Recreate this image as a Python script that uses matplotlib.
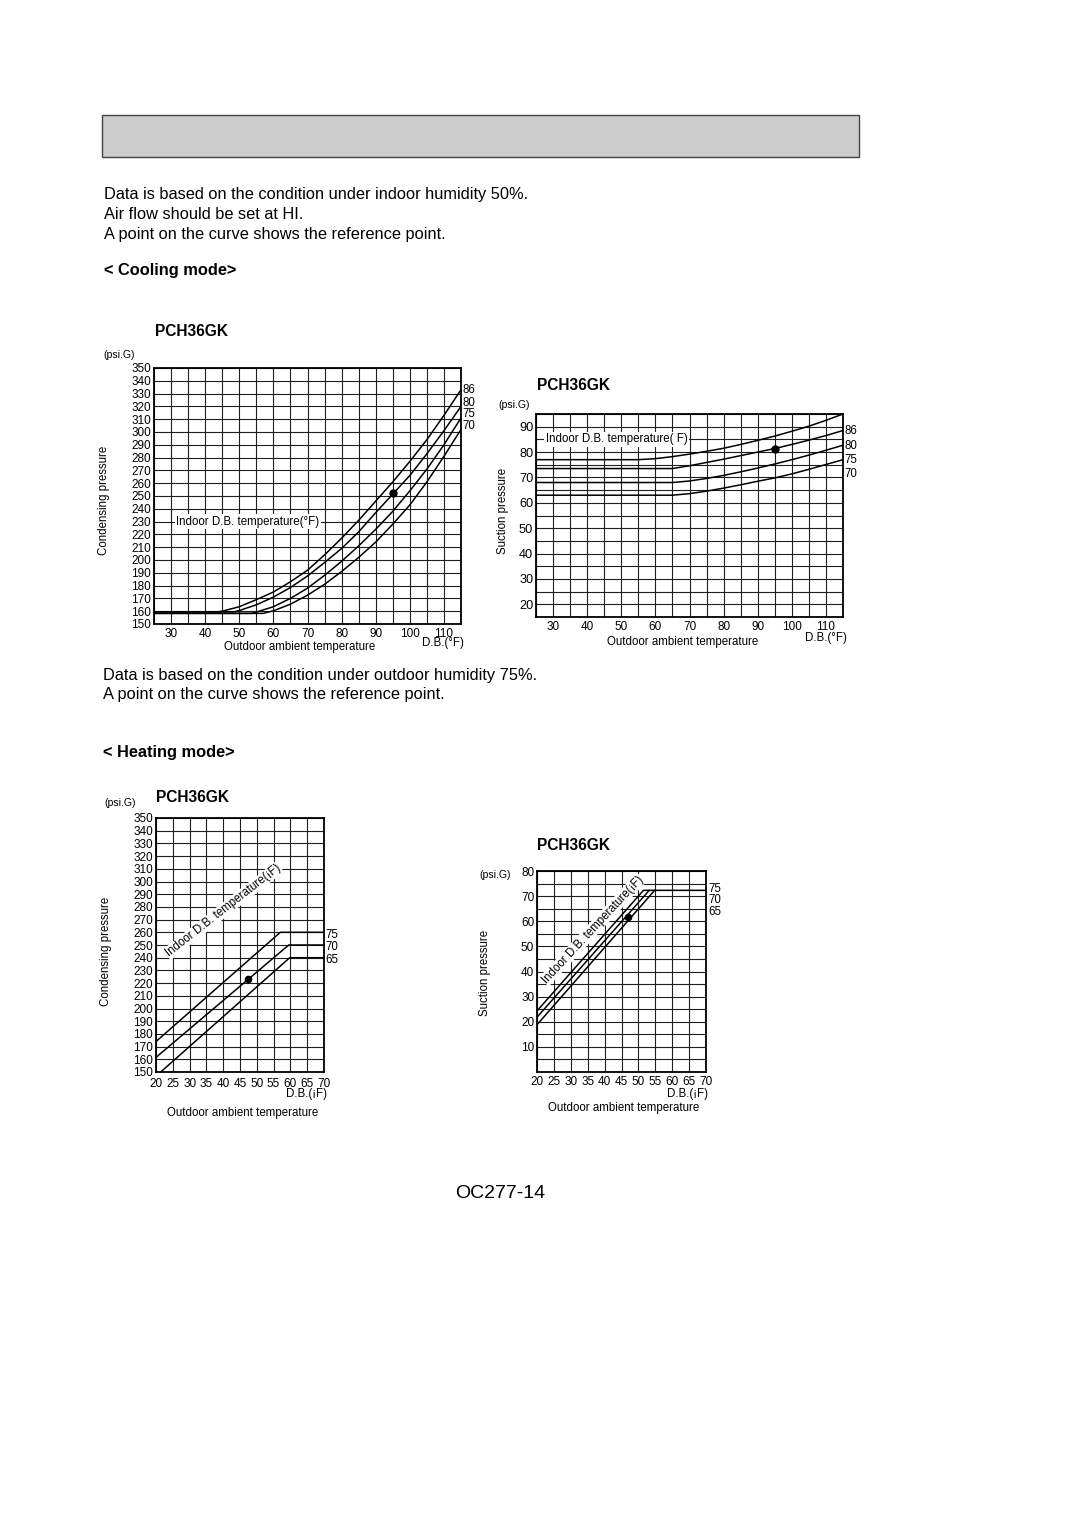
import numpy as np
import matplotlib
matplotlib.use("Agg")
import matplotlib.pyplot as plt

plt.rcParams['font.family'] = ['Liberation Sans', 'DejaVu Sans']

W, H = 1080, 1531

# Cooling mode - condensing pressure (psi.G) vs outdoor D.B. (F)
cc_x86 = [25, 43.5, 45, 50, 55, 60, 65, 70, 75, 80, 85, 90, 95, 100, 105, 110, 115]
cc_p86 = [159.5, 159.5, 160, 163.5, 169, 175, 183, 192, 204, 217, 231, 246, 261, 277, 294, 313, 333]
cc_x80 = [25, 48.5, 50, 55, 60, 65, 70, 75, 80, 85, 90, 95, 100, 105, 110, 115]
cc_p80 = [159.5, 159.5, 160.5, 165, 171, 178.5, 187.5, 198, 209, 222, 237, 251.5, 266, 283, 301, 320]
cc_x75 = [25, 53.5, 55, 60, 65, 70, 75, 80, 85, 90, 95, 100, 105, 110, 115]
cc_p75 = [158.3, 158.3, 159.3, 163.5, 170, 178, 188, 199, 211, 224, 238, 254, 271, 290, 311]
cc_x70 = [25, 57, 60, 65, 70, 75, 80, 85, 90, 95, 100, 105, 110, 115]
cc_p70 = [158.3, 158.3, 160.3, 165.5, 172.5, 181, 191, 202, 214, 228, 243, 261, 281, 302]
cc_ref = (95, 252.5)
cc_labels = ['86', '80', '75', '70']
cc_label_y = [332.5, 323, 314, 305]

# Cooling mode - suction pressure
cs_x86 = [25, 55, 60, 65, 70, 75, 80, 85, 90, 95, 100, 105, 110, 115]
cs_p86 = [77, 77, 77.4, 78.2, 79.2, 80.3, 81.5, 83, 84.6, 86.3, 88.2, 90.2, 92.5, 95]
cs_x80 = [25, 65, 70, 75, 80, 85, 90, 95, 100, 105, 110, 115]
cs_p80 = [73.5, 73.5, 74.6, 75.9, 77.2, 78.6, 80, 81.4, 83, 84.7, 86.5, 88.5]
cs_x75 = [25, 65, 70, 75, 80, 85, 90, 95, 100, 105, 110, 115]
cs_p75 = [68, 68, 68.6, 69.6, 70.8, 72.2, 73.7, 75.3, 77, 78.8, 80.7, 82.7]
cs_x70 = [25, 65, 70, 75, 80, 85, 90, 95, 100, 105, 110, 115]
cs_p70 = [63, 63, 63.6, 64.6, 65.8, 67.1, 68.5, 69.8, 71.4, 73.2, 75.1, 77]
cs_ref = (95, 81.3)
cs_labels = ['86', '80', '75', '70']
cs_label_y = [88.3, 82.5, 77, 71.3]

# Heating mode - condensing pressure
hc_x75 = [20, 57, 70]
hc_p75 = [174, 260, 260]
hc_x70 = [20, 59.5, 70]
hc_p70 = [161.5, 250, 250]
hc_x65 = [21.4, 59.8, 70]
hc_p65 = [150, 240, 240]
hc_ref = (47.4, 223.5)
hc_labels = ['75', '70', '65']
hc_label_y = [258, 248.5, 238.5]

# Heating mode - suction pressure
hs_x75 = [20, 51.5, 70]
hs_p75 = [24.3, 72.3, 72.3]
hs_x70 = [20, 53.2]
hs_p70 = [21.8, 72.3]
hs_x65 = [20, 54.8]
hs_p65 = [18.8, 72.3]
hs_ref = (47, 61.8)
hs_labels = ['75', '70', '65']
hs_label_y = [73, 68.4, 63.8]

fig = plt.figure(figsize=(W / 100, H / 100), dpi=100)
fig.patch.set_facecolor('white')


def ft(x, y, s, **kw):
    kw.setdefault('va', 'center')
    kw.setdefault('fontsize', 8.3)
    fig.text(x / W, 1 - y / H, s, **kw)


def ax_px(l, t, r, b):
    return fig.add_axes([l / W, 1 - b / H, (r - l) / W, (b - t) / H])


def style(ax, xlim, ylim, xmaj, xmin, ymaj, ymin, xpad=3.0, ysize=8.5):
    ax.set_xlim(*xlim)
    ax.set_ylim(*ylim)
    ax.set_xticks(xmaj)
    ax.set_xticks(xmin, minor=True)
    ax.set_yticks(ymaj)
    ax.set_yticks(ymin, minor=True)
    ax.tick_params(which='both', length=0, labelsize=8.5)
    ax.tick_params(axis='y', pad=2, labelsize=ysize)
    ax.tick_params(axis='x', pad=xpad)
    ax.grid(which='both', color='#1e1e1e', lw=0.8)
    ax.set_axisbelow(True)
    for sp in ax.spines.values():
        sp.set_linewidth(1.3)


LW = 1.1

# header box and text
fig.patches.append(plt.Rectangle((102 / W, 1 - 157 / H), 757 / W, 42 / H,
                                 transform=fig.transFigure, fc='#cccccc', ec='#444444', lw=1))
ft(104, 195, 'Data is based on the condition under indoor humidity 50%.', fontsize=11.8)
ft(104, 214.5, 'Air flow should be set at HI.', fontsize=11.8)
ft(104, 234, 'A point on the curve shows the reference point.', fontsize=11.8)
ft(104, 271, '< Cooling mode>', fontsize=11.8, fontweight='bold')

# chart 1
ft(155, 331, 'PCH36GK', fontsize=11.2, fontweight='bold')
ax1 = ax_px(154, 368, 461, 624)
style(ax1, (25, 115), (150, 350), np.arange(30, 111, 10), np.arange(25, 116, 5),
      np.arange(150, 351, 10), [])
for xs, ps in [(cc_x86, cc_p86), (cc_x80, cc_p80), (cc_x75, cc_p75), (cc_x70, cc_p70)]:
    ax1.plot(xs, ps, color='black', lw=LW)
ax1.plot(*cc_ref, 'o', color='black', ms=5)
ax1.text(31.5, 230, 'Indoor D.B. temperature(°F)', fontsize=8.3, va='center', ha='left',
         bbox=dict(fc='white', ec='none', pad=1))
for lab, yy in zip(cc_labels, cc_label_y):
    ax1.text(115.4, yy, lab, fontsize=8.3, va='center', ha='left', clip_on=False)
ft(119, 355, '(psi.G)', ha='center', fontsize=7.6)
ft(104, 500, 'Condensing pressure', ha='center', rotation=90)
ft(300, 646.5, 'Outdoor ambient temperature', ha='center')
ft(443, 643.5, 'D.B.(°F)', ha='center')

# chart 2
ft(536.5, 385, 'PCH36GK', fontsize=11.2, fontweight='bold')
ax2 = ax_px(536, 414, 843, 617)
style(ax2, (25, 115), (15, 95), np.arange(30, 111, 10), np.arange(25, 116, 5),
      np.arange(20, 91, 10), np.arange(15, 96, 5), ysize=9.2)
for xs, ps in [(cs_x86, cs_p86), (cs_x80, cs_p80), (cs_x75, cs_p75), (cs_x70, cs_p70)]:
    ax2.plot(xs, ps, color='black', lw=LW)
ax2.plot(*cs_ref, 'o', color='black', ms=5)
ax2.text(27.8, 85, 'Indoor D.B. temperature( F)', fontsize=8.3, va='center', ha='left',
         bbox=dict(fc='white', ec='none', pad=1))
for lab, yy in zip(cs_labels, cs_label_y):
    ax2.text(115.3, yy, lab, fontsize=8.3, va='center', ha='left', clip_on=False)
ft(514, 405, '(psi.G)', ha='center', fontsize=7.6)
ft(503, 511, 'Suction pressure', ha='center', rotation=90)
ft(683, 642, 'Outdoor ambient temperature', ha='center')
ft(826, 638, 'D.B.(°F)', ha='center')

# heating text
ft(103, 675.5, 'Data is based on the condition under outdoor humidity 75%.', fontsize=11.8)
ft(103, 694.5, 'A point on the curve shows the reference point.', fontsize=11.8)
ft(103, 752, '< Heating mode>', fontsize=11.8, fontweight='bold')

# chart 3
ft(156, 797, 'PCH36GK', fontsize=11.2, fontweight='bold')
ax3 = ax_px(156, 818, 324, 1072)
style(ax3, (20, 70), (150, 350), np.arange(20, 71, 5), [],
      np.arange(150, 351, 10), [], xpad=4.0)
for xs, ps in [(hc_x75, hc_p75), (hc_x70, hc_p70), (hc_x65, hc_p65)]:
    ax3.plot(xs, ps, color='black', lw=LW, clip_on=False)
ax3.plot(*hc_ref, 'o', color='black', ms=4.5)
ax3.text(40, 277, 'Indoor D.B. temperature(¡F)', fontsize=8.3, va='center', ha='center',
         rotation=38, rotation_mode='anchor', bbox=dict(fc='white', ec='none', pad=0.5))
for lab, yy in zip(hc_labels, hc_label_y):
    ax3.text(70.4, yy, lab, fontsize=8.3, va='center', ha='left', clip_on=False)
ft(120, 803, '(psi.G)', ha='center', fontsize=7.6)
ft(106.5, 951, 'Condensing pressure', ha='center', rotation=90)
ft(306.5, 1094.5, 'D.B.(¡F)', ha='center')
ft(243, 1113, 'Outdoor ambient temperature', ha='center')

# chart 4
ft(536.5, 845, 'PCH36GK', fontsize=11.2, fontweight='bold')
ax4 = ax_px(537, 871, 706, 1072)
style(ax4, (20, 70), (0, 80), np.arange(20, 71, 5), [],
      np.arange(10, 81, 10), np.arange(0, 81, 5), xpad=3.0)
for xs, ps in [(hs_x75, hs_p75), (hs_x70, hs_p70), (hs_x65, hs_p65)]:
    ax4.plot(xs, ps, color='black', lw=LW)
ax4.plot(*hs_ref, 'o', color='black', ms=4.5)
ax4.text(36.5, 56.7, 'Indoor D.B. temperature(¡F)', fontsize=8.3, va='center', ha='center',
         rotation=47, rotation_mode='anchor', bbox=dict(fc='white', ec='none', pad=0.5))
for lab, yy in zip(hs_labels, hs_label_y):
    ax4.text(70.6, yy, lab, fontsize=8.3, va='center', ha='left', clip_on=False)
ft(495, 875, '(psi.G)', ha='center', fontsize=7.6)
ft(485, 973, 'Suction pressure', ha='center', rotation=90)
ft(687, 1094, 'D.B.(¡F)', ha='center')
ft(624, 1107.5, 'Outdoor ambient temperature', ha='center')

# page number
ft(500, 1193, 'OC277-14', ha='center', fontsize=14)

fig.savefig('out.png', dpi=100)
